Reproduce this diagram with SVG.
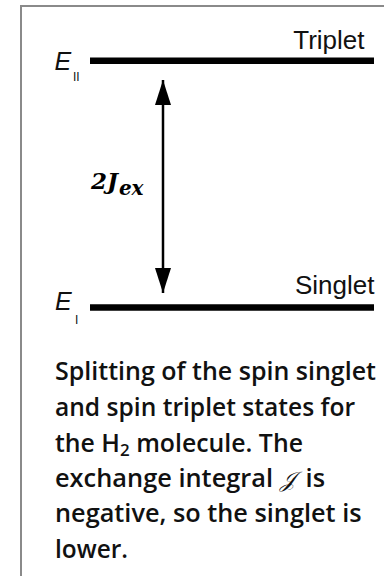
<svg xmlns="http://www.w3.org/2000/svg" width="384" height="576" viewBox="0 0 384 576">
  <style>
    .frame { fill: none; stroke: #8a8a8a; stroke-width: 2; }
    .level { stroke: #000; stroke-width: 6.6; stroke-linecap: butt; }
    .lab { font-family: "Liberation Sans", Arial, sans-serif; font-size: 26px; fill: #111; }
    .e { font-family: "Liberation Sans", Arial, sans-serif; font-style: italic; font-size: 25px; fill: #111; }
    .sub { font-family: "Liberation Sans", Arial, sans-serif; font-size: 12px; fill: #111; }
    .math { font-family: "DejaVu Serif", "Liberation Serif", serif; font-weight: bold; font-style: italic; font-size: 23px; fill: #000; }
    .mathsub { font-size: 20px; }
    .cap { font-family: "Open Sans", "Noto Sans", sans-serif; font-size: 25px; font-weight: 600; fill: #111; }
    .conn { stroke: #000; stroke-width: 2.5; fill: none; }
  </style>
  <defs>
    <marker id="ah" markerUnits="userSpaceOnUse" markerWidth="25" markerHeight="16" refX="25" refY="8" orient="auto-start-reverse">
      <path d="M0,0 L25,8 L0,16 Z" fill="#000"/>
    </marker>
  </defs>

  <path class="frame" d="M21,576 L21,6 L384,6"/>

  <g id="triplet">
    <line class="level" x1="90" y1="60.7" x2="374" y2="60.7"/>
    <text class="lab" x="364.5" y="48.5" text-anchor="end">Triplet</text>
    <text class="e" x="54.5" y="70">E</text>
    <text class="sub" x="73" y="80.5">II</text>
  </g>

  <g id="singlet">
    <line class="level" x1="90" y1="307.5" x2="374" y2="307.5"/>
    <text class="lab" x="374.5" y="293.5" text-anchor="end">Singlet</text>
    <text class="e" x="55" y="309.5">E</text>
    <text class="sub" x="75" y="324">I</text>
  </g>

  <g id="connectors">
    <line class="conn" x1="163" y1="80" x2="163" y2="293" marker-start="url(#ah)" marker-end="url(#ah)"/>
    <text class="math" x="91" y="188.5">2J<tspan class="mathsub" dx="1" dy="6">ex</tspan></text>
  </g>

  <g id="caption">
    <text class="cap" x="55" y="380" textLength="321" lengthAdjust="spacingAndGlyphs">Splitting of the spin singlet</text>
    <text class="cap" x="55" y="415.5" textLength="300" lengthAdjust="spacingAndGlyphs">and spin triplet states for</text>
    <text class="cap" x="55" y="451.5" textLength="248" lengthAdjust="spacingAndGlyphs">the H<tspan font-size="17" dy="4">2</tspan><tspan dy="-4"> molecule. The</tspan></text>
    <text class="cap" x="55" y="487" textLength="270" lengthAdjust="spacingAndGlyphs">exchange integral <tspan font-family="'DejaVu Serif', serif" font-style="italic" font-weight="normal" font-size="22">𝒥</tspan><tspan dx="4"> is</tspan></text>
    <text class="cap" x="55" y="522" textLength="306.5" lengthAdjust="spacingAndGlyphs">negative, so the singlet is</text>
    <text class="cap" x="55" y="558" textLength="73" lengthAdjust="spacingAndGlyphs">lower.</text>
  </g>
</svg>
